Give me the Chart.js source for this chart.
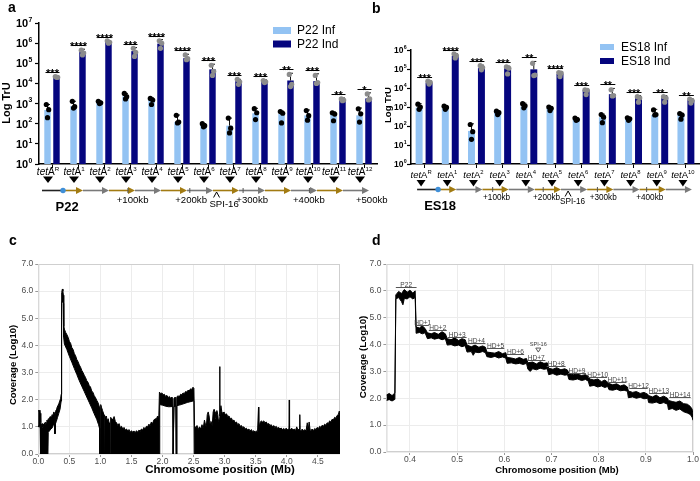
<!DOCTYPE html>
<html>
<head>
<meta charset="utf-8">
<title>tetA transduction and read coverage</title>
<script src="https://cdn.jsdelivr.net/npm/chart.js@4.4.1/dist/chart.umd.min.js"></script>
<style>
  body { margin: 0; background: #fff; }
  #page { position: relative; width: 700px; height: 481px; overflow: hidden; background: #fff; }
  #page canvas { position: absolute; }
  .letter { position: absolute; font: bold 14px Arial, "Liberation Sans", sans-serif; line-height: 14px; color: #000; }
</style>
</head>
<body>
<div id="page">
  <canvas id="chartA" width="400" height="216" style="left:0;top:0"></canvas>
  <canvas id="chartB" width="350" height="216" style="left:350px;top:0"></canvas>
  <canvas id="chartC" width="350" height="241" style="left:0;top:240px"></canvas>
  <canvas id="chartD" width="350" height="241" style="left:350px;top:240px"></canvas>
  <div class="letter" style="left:8px;top:0">a</div>
  <div class="letter" style="left:372px;top:1px">b</div>
  <div class="letter" style="left:9px;top:233px">c</div>
  <div class="letter" style="left:372px;top:233px">d</div>
</div>
<script>
// ---- panel a : P22
const p22Sites = ['R', '1', '2', '3', '4', '5', '6', '7', '8', '9', '10', '11', '12'];
const p22Inf = [480, 750, 1100, 2300, 1600, 120, 80, 80, 330, 300, 260, 280, 260];
const p22Ind = [21000, 380000, 1150000, 400000, 950000, 180000, 50000, 13000, 13000, 14000, 13000, 1600, 1800];
const p22InfErr = [900, 1300, 1300, 3200, 1900, 270, 100, 190, 580, 420, 480, 380, 600];
const p22IndErr = [23000, 500000, 1350000, 600000, 1500000, 280000, 90000, 16000, 15000, 32000, 30000, 1900, 3400];
const p22InfDots = [[900, 500, 200], [1300, 700, 600], [1300, 1100, 1000], [3200, 2200, 1700], [1800, 1500, 900], [260, 120, 110], [100, 80, 70], [190, 60, 35], [560, 350, 160], [400, 330, 110], [450, 250, 150], [350, 300, 140], [550, 310, 120]];
const p22IndDots = [[22000, 20000, 20000], [450000, 320000, 260000], [1300000, 1100000, 1000000], [550000, 350000, 220000], [1300000, 1000000, 550000], [260000, 170000, 150000], [80000, 40000, 25000], [16000, 12000, 9000], [14000, 12000, 11000], [28000, 9000, 7000], [25000, 11000, 10000], [1700, 1500, 1400], [3000, 1700, 1500]];
const p22Stars = ['***', '****', '****', '***', '****', '****', '***', '***', '***', '**', '***', '**', '*'];
const p22Ticks = [1, 10, 100, 1000, 10000, 100000, 1000000, 10000000];

// ---- panel b : ES18
const es18Sites = ['R', '1', '2', '3', '4', '5', '6', '7', '8', '9', '10'];
const es18Inf = [920, 850, 55, 500, 1050, 850, 225, 290, 255, 380, 410];
const es18Ind = [19000, 480000, 110000, 110000, 96000, 55000, 7900, 4700, 3500, 3200, 2300];
const es18InfErr = [1500, 1100, 130, 620, 1600, 1050, 270, 420, 280, 750, 470];
const es18IndErr = [24000, 650000, 160000, 140000, 250000, 70000, 8500, 9500, 4000, 4000, 2800];
const es18InfDots = [[1400, 1000, 750], [1100, 950, 750], [120, 50, 20], [600, 500, 400], [1500, 1150, 900], [1000, 850, 650], [260, 220, 200], [400, 290, 150], [270, 240, 200], [700, 400, 380], [450, 380, 230]];
const es18IndDots = [[23000, 20000, 16000], [620000, 500000, 380000], [150000, 120000, 90000], [130000, 110000, 55000], [200000, 48000, 45000], [65000, 60000, 40000], [8000, 7500, 4500], [8000, 4000, 3800], [3500, 3000, 1800], [3500, 3000, 1800], [2600, 2200, 1600]];
const es18Stars = ['***', '****', '***', '***', '**', '****', '***', '**', '***', '**', '**'];
const es18Ticks = [1, 10, 100, 1000, 10000, 100000, 1000000];

// ---- panel c : whole chromosome coverage (upper / lower edge of the trace)
const covWholeUpper = [[0.000,1.05],[0.004,1.62],[0.015,1.55],[0.025,1.62],[0.033,1.50],[0.040,1.15],[0.050,1.05],[0.060,1.12],[0.070,0.98],[0.080,1.10],[0.090,1.02],[0.100,1.15],[0.110,1.05],[0.120,1.18],[0.130,1.10],[0.140,1.25],[0.150,1.18],[0.160,1.30],[0.175,1.28],[0.190,1.38],[0.205,1.35],[0.220,1.45],[0.235,1.42],[0.250,1.55],[0.262,1.50],[0.268,0.75],[0.274,1.50],[0.285,1.62],[0.300,1.70],[0.315,1.78],[0.330,1.85],[0.345,1.95],[0.360,2.05],[0.368,2.20],
  [0.372,5.75],[0.380,5.95],[0.388,6.08],[0.396,6.00],[0.404,5.85],[0.410,4.70],[0.420,4.60],[0.440,4.48],[0.460,4.40],[0.480,4.30],[0.500,4.15],[0.520,4.08],[0.540,3.92],[0.560,3.85],[0.580,3.70],[0.600,3.62],[0.620,3.48],[0.640,3.40],[0.660,3.28],[0.680,3.20],[0.700,3.08],[0.720,3.00],[0.740,2.90],[0.760,2.82],[0.780,2.70],[0.800,2.64],[0.820,2.52],[0.840,2.47],[0.860,2.32],[0.880,2.27],[0.900,2.15],[0.920,2.08],[0.940,1.98],[0.960,1.90],[0.975,1.80],[0.985,1.72],[0.990,0.00],[1.000,0.00],
  [1.005,1.82],[1.020,1.70],[1.035,1.60],[1.045,1.52],[1.050,0.00],[1.058,0.00],[1.062,1.45],[1.080,1.35],[1.095,1.40],[1.110,1.22],[1.125,1.30],[1.140,1.15],[1.145,0.00],[1.160,0.00],[1.165,1.35],[1.185,1.30],[1.200,1.25],[1.220,1.38],[1.240,1.20],[1.260,1.15],[1.280,1.05],[1.300,1.12],[1.320,0.98],[1.340,1.02],[1.360,0.92],[1.380,0.98],[1.400,0.88],[1.420,0.92],[1.440,0.85],[1.460,0.90],[1.480,0.80],[1.500,0.86],[1.520,0.80],[1.540,0.85],[1.560,0.78],[1.580,0.86],[1.600,0.80],[1.620,0.88],[1.640,0.84],[1.660,0.92],[1.680,0.88],[1.700,0.98],[1.720,0.92],[1.740,1.02],[1.760,1.00],[1.780,1.10],[1.800,1.05],[1.820,1.18],[1.840,1.12],[1.860,1.25],[1.880,1.30],[1.900,1.28],[1.920,1.40],[1.940,1.35],
  [1.950,2.28],[1.970,2.22],[1.990,2.25],[2.010,2.18],[2.030,2.20],[2.050,2.12],[2.070,2.16],[2.090,2.08],[2.110,2.12],[2.130,2.05],[2.150,2.10],[2.165,2.05],[2.170,0.00],[2.180,0.00],[2.185,2.05],[2.200,2.10],[2.215,2.05],[2.220,0.00],[2.228,0.00],[2.232,2.10],[2.250,2.15],[2.270,2.10],[2.290,2.20],[2.310,2.18],[2.330,2.25],[2.350,2.22],[2.370,2.30],[2.390,2.28],[2.410,2.35],[2.430,2.32],[2.450,2.40],[2.470,2.38],[2.490,2.46],[2.505,2.42],
  [2.515,1.05],[2.535,0.95],[2.555,1.05],[2.575,0.90],[2.595,1.00],[2.615,0.92],[2.635,1.08],[2.655,0.95],[2.675,1.25],[2.690,1.10],[2.705,1.00],[2.720,1.45],[2.735,1.55],[2.750,1.40],[2.765,1.10],[2.780,1.20],[2.800,1.05],[2.815,1.55],[2.830,1.65],[2.845,1.55],[2.860,1.30],[2.875,1.60],[2.890,1.45],[2.900,1.20],[2.915,1.30],[2.920,3.22],[2.925,1.40],[2.940,1.78],[2.955,1.55],[2.970,1.50],[2.990,1.55],[3.010,1.45],[3.030,1.48],[3.050,1.38],[3.070,1.40],[3.090,1.30],[3.110,1.32],[3.130,1.22],[3.150,1.25],[3.170,1.15],[3.190,1.18],[3.210,1.08],[3.230,1.12],[3.250,1.02],[3.270,1.05],[3.290,0.98],[3.310,1.00],[3.330,0.92],[3.350,0.95],[3.370,0.88],[3.390,0.92],[3.410,0.85],[3.430,0.90],[3.450,0.82],[3.470,0.86],[3.490,0.80],[3.510,0.85],[3.530,0.82],[3.545,1.73],[3.550,0.90],
  [3.570,1.15],[3.590,1.22],[3.610,1.18],[3.630,1.22],[3.650,1.15],[3.670,1.18],[3.690,1.10],[3.710,1.12],[3.730,1.05],[3.750,1.08],[3.770,1.00],[3.790,1.05],[3.810,0.98],[3.830,1.02],[3.850,0.95],[3.870,0.98],[3.890,0.92],[3.910,0.96],[3.930,0.90],[3.950,0.94],[3.970,0.90],[3.990,0.95],[4.010,0.90],[4.035,0.92],[4.040,1.99],[4.045,0.95],[4.060,0.90],[4.080,0.95],[4.100,0.88],[4.120,0.92],[4.140,0.86],[4.160,1.00],[4.180,0.88],[4.200,0.92],[4.210,1.45],[4.215,0.90],[4.230,0.86],[4.250,0.92],[4.270,0.85],[4.290,0.90],[4.310,0.84],[4.330,1.15],[4.345,0.88],[4.360,1.18],[4.375,0.90],[4.390,0.86],[4.410,0.92],[4.430,0.86],[4.450,0.94],[4.470,0.90],[4.490,0.98],[4.510,0.94],[4.530,1.02],[4.550,0.98],[4.570,1.06],[4.590,1.02],[4.610,1.10],[4.630,1.06],[4.650,1.15],[4.670,1.12],[4.690,1.22],[4.710,1.18],[4.730,1.28],[4.750,1.25],[4.770,1.35],[4.790,1.32],[4.810,1.42],[4.830,1.45],[4.845,1.58],[4.857,1.50]];
const covWholeLower = [[0.000,1.05],[0.004,1.00],[0.030,1.00],[0.036,0.00],[0.155,0.00],[0.160,0.80],[0.180,0.85],[0.200,0.92],[0.220,0.95],[0.240,1.05],[0.260,1.10],[0.268,0.75],[0.274,1.10],[0.290,1.20],[0.310,1.35],[0.330,1.50],[0.350,1.65],[0.368,1.95],[0.374,5.55],[0.388,5.65],[0.400,5.55],[0.408,4.30],[0.420,4.05],[0.460,3.85],[0.500,3.60],[0.540,3.38],[0.580,3.15],[0.620,2.93],[0.660,2.70],[0.700,2.50],[0.740,2.30],[0.780,2.10],[0.820,1.90],[0.860,1.70],[0.900,1.48],[0.940,1.28],[0.970,1.08],[0.985,0.95],[0.990,0.00],[1.950,0.00],[1.955,1.82],[2.000,1.80],[2.050,1.76],[2.100,1.74],[2.165,1.75],[2.170,0.00],[2.180,0.00],[2.185,1.75],[2.215,1.76],[2.220,0.00],[2.228,0.00],[2.232,1.78],[2.300,1.82],[2.400,1.90],[2.505,1.96],[2.510,0.00],[4.857,0.00]];

// ---- panel d : zoom on the P22 region
const covZoomUpper = [[0.350,2.12],[0.356,2.18],[0.362,2.10],[0.368,2.20],[0.370,5.85],[0.376,5.98],[0.382,5.90],[0.388,6.05],[0.394,5.95],[0.400,6.02],[0.406,5.92],[0.411,6.00],[0.413,4.65],[0.420,4.62],[0.426,4.70],[0.432,4.60],[0.437,4.44],[0.445,4.40],[0.452,4.45],[0.460,4.38],[0.468,4.48],[0.475,4.40],[0.479,4.22],[0.487,4.18],[0.495,4.25],[0.503,4.15],[0.510,4.22],[0.517,4.18],[0.521,3.98],[0.530,3.92],[0.538,3.98],[0.546,3.90],[0.554,3.95],[0.560,3.90],[0.563,3.72],[0.572,3.70],[0.580,3.68],[0.588,3.74],[0.596,3.66],[0.603,3.70],[0.606,3.52],[0.615,3.50],[0.624,3.46],[0.632,3.52],[0.640,3.45],[0.647,3.48],[0.650,3.32],[0.660,3.35],[0.668,3.28],[0.676,3.36],[0.684,3.30],[0.691,3.32],[0.694,3.12],[0.703,3.08],[0.711,3.14],[0.720,3.06],[0.728,3.10],[0.734,3.05],[0.737,2.92],[0.746,2.88],[0.755,2.90],[0.764,2.85],[0.772,2.88],[0.778,2.82],[0.781,2.72],[0.790,2.68],[0.798,2.72],[0.806,2.62],[0.813,2.68],[0.819,2.60],[0.822,2.55],[0.830,2.50],[0.838,2.54],[0.846,2.46],[0.854,2.50],[0.861,2.42],[0.863,2.27],[0.872,2.22],[0.880,2.25],[0.888,2.18],[0.896,2.22],[0.904,2.15],[0.906,2.10],[0.914,2.05],[0.922,2.12],[0.930,2.02],[0.938,2.08],[0.946,2.00],[0.948,1.92],[0.956,1.88],[0.964,1.85],[0.972,1.90],[0.980,1.80],[0.988,1.78],[0.994,1.70],[0.998,1.60],[1.000,1.40]];
const covZoomLower = [[0.350,1.92],[0.356,1.95],[0.362,1.90],[0.368,1.96],[0.370,5.70],[0.376,5.75],[0.382,5.60],[0.385,5.48],[0.388,5.72],[0.394,5.70],[0.400,5.78],[0.406,5.70],[0.411,5.75],[0.413,4.42],[0.420,4.45],[0.426,4.40],[0.432,4.44],[0.437,4.22],[0.445,4.25],[0.452,4.20],[0.460,4.24],[0.468,4.18],[0.475,4.22],[0.479,3.98],[0.487,4.00],[0.495,3.95],[0.503,3.98],[0.510,3.92],[0.517,3.96],[0.521,3.72],[0.530,3.74],[0.534,3.60],[0.538,3.72],[0.546,3.70],[0.554,3.74],[0.560,3.70],[0.563,3.55],[0.572,3.52],[0.580,3.56],[0.588,3.50],[0.596,3.54],[0.603,3.50],[0.606,3.30],[0.615,3.32],[0.624,3.28],[0.632,3.30],[0.640,3.26],[0.647,3.30],[0.650,3.08],[0.655,3.00],[0.660,3.10],[0.668,3.06],[0.676,3.12],[0.684,3.08],[0.691,3.10],[0.694,2.88],[0.703,2.92],[0.711,2.86],[0.720,2.90],[0.728,2.86],[0.734,2.88],[0.737,2.70],[0.746,2.68],[0.755,2.72],[0.764,2.66],[0.772,2.70],[0.778,2.64],[0.781,2.45],[0.790,2.48],[0.798,2.42],[0.806,2.46],[0.813,2.40],[0.819,2.44],[0.822,2.32],[0.830,2.30],[0.838,2.34],[0.846,2.28],[0.854,2.30],[0.861,2.26],[0.863,2.02],[0.872,2.05],[0.880,2.00],[0.888,2.04],[0.896,1.98],[0.904,2.00],[0.906,1.84],[0.914,1.82],[0.922,1.86],[0.930,1.80],[0.938,1.84],[0.946,1.78],[0.948,1.58],[0.956,1.62],[0.964,1.55],[0.972,1.60],[0.980,1.50],[0.988,1.45],[0.994,1.40],[0.998,1.30],[1.000,1.18]];
const zoomMarks = ['P22', 'HD+1', 'HD+2', 'HD+3', 'HD+4', 'HD+5', 'HD+6', 'HD+7', 'HD+8', 'HD+9', 'HD+10', 'HD+11', 'HD+12', 'HD+13', 'HD+14'];
const zoomMarkStart = [0.370, 0.414, 0.440, 0.480, 0.522, 0.563, 0.605, 0.648, 0.690, 0.735, 0.778, 0.821, 0.865, 0.907, 0.950];
const zoomMarkEnd = [0.414, 0.440, 0.478, 0.520, 0.560, 0.600, 0.642, 0.687, 0.730, 0.773, 0.818, 0.859, 0.904, 0.948, 0.995];
const zoomMarkLevel = [6.15, 4.73, 4.54, 4.29, 4.07, 3.86, 3.64, 3.43, 3.20, 2.95, 2.78, 2.62, 2.37, 2.18, 2.06];

const LIGHT = '#93c3f3', DARK = '#05057e', GOLD = '#a27b12', GREY = '#7a7a7a';
const FONT = 'Arial, "Liberation Sans", Helvetica, sans-serif';
Chart.defaults.font.family = FONT;

function drawTetA(ctx, x, baseY, sup, size) {
  const parts = [
    { t: 'tet', f: `italic ${size}px ${FONT}`, dy: 0 },
    { t: 'A', f: `${size}px ${FONT}`, dy: 0 },
    { t: sup, f: `${size * 0.62}px ${FONT}`, dy: -size * 0.4 }
  ];
  let w = 0;
  parts.forEach(p => { ctx.font = p.f; p.w = ctx.measureText(p.t).width; w += p.w; });
  let cx = x - w / 2;
  ctx.textAlign = 'left';
  ctx.textBaseline = 'alphabetic';
  parts.forEach(p => { ctx.font = p.f; ctx.fillText(p.t, cx, baseY + p.dy); cx += p.w; });
}

function drawMap(chart, m) {
  const ctx = chart.ctx, xs = chart.scales.x;
  const c = i => xs.getPixelForValue(i);
  ctx.save();
  ctx.lineWidth = 1.6;
  const dotX = c(0) + m.dotShift;
  ctx.strokeStyle = '#222';
  ctx.beginPath(); ctx.moveTo(c(0) + m.startShift, m.lineY); ctx.lineTo(dotX, m.lineY); ctx.stroke();
  let from = dotX;
  for (let i = 1; i < m.sites.length; i++) {
    const tip = c(i) + m.tipShift, col = i % 2 ? GOLD : GREY;
    ctx.strokeStyle = col; ctx.fillStyle = col;
    ctx.beginPath(); ctx.moveTo(from, m.lineY); ctx.lineTo(tip - 5, m.lineY); ctx.stroke();
    ctx.beginPath(); ctx.moveTo(tip, m.lineY); ctx.lineTo(tip - 7, m.lineY - 3.5); ctx.lineTo(tip - 7, m.lineY + 3.5); ctx.closePath(); ctx.fill();
    from = tip;
  }
  ctx.fillStyle = '#3f8fd8';
  ctx.beginPath(); ctx.arc(dotX, m.lineY, 2.7, 0, Math.PI * 2); ctx.fill();

  // kb marks
  ctx.fillStyle = '#000'; ctx.strokeStyle = '#555'; ctx.lineWidth = 1;
  ctx.font = `${m.kbSize}px ${FONT}`; ctx.textAlign = 'center'; ctx.textBaseline = 'middle';
  m.kb.forEach(([t, at, tick]) => {
    if (tick !== null) {
      const tx = c(tick);
      ctx.beginPath(); ctx.moveTo(tx, m.lineY - 2.5); ctx.lineTo(tx, m.lineY + 2.5); ctx.stroke();
    }
    ctx.fillText(t, c(at), m.kbY);
  });
  const sx = c(m.spi.caret);
  ctx.strokeStyle = '#000';
  ctx.beginPath(); ctx.moveTo(sx - 3, m.lineY + 7); ctx.lineTo(sx, m.lineY + 1.5); ctx.lineTo(sx + 3, m.lineY + 7); ctx.stroke();
  ctx.font = `${m.spi.size}px ${FONT}`;
  ctx.fillText('SPI-16', c(m.spi.text), m.spi.y);
  ctx.font = `bold ${m.nameSize}px ${FONT}`;
  ctx.fillText(m.name, c(m.nameAt), m.nameY);

  // insertion sites
  m.sites.forEach((s, i) => {
    const x = c(i) + m.siteShift;
    ctx.fillStyle = '#000';
    ctx.beginPath(); ctx.moveTo(x - m.triW / 2, m.triTop); ctx.lineTo(x + m.triW / 2, m.triTop); ctx.lineTo(x, m.triTop + m.triH); ctx.closePath(); ctx.fill();
    drawTetA(ctx, x, m.labelY, s, m.labelSize);
  });
  ctx.restore();
}

function barExtras(o) {
  return {
    id: 'barExtras',
    afterDatasetsDraw(chart) {
      const ctx = chart.ctx, y = chart.scales.y;
      const mInf = chart.getDatasetMeta(0).data, mInd = chart.getDatasetMeta(1).data;
      ctx.save();
      [[mInf, o.errInf, o.dotsInf, '#000'], [mInd, o.errInd, o.dotsInd, '#8c8c8c']].forEach(([bars, err, dots, dotColor]) => {
        bars.forEach((b, i) => {
          const top = y.getPixelForValue(err[i]);
          ctx.strokeStyle = '#111'; ctx.lineWidth = 1;
          ctx.beginPath(); ctx.moveTo(b.x, b.y); ctx.lineTo(b.x, top);
          ctx.moveTo(b.x - 2.5, top); ctx.lineTo(b.x + 2.5, top); ctx.stroke();
          ctx.fillStyle = dotColor;
          dots[i].forEach((v, k) => {
            ctx.beginPath();
            ctx.arc(b.x + [-1.2, 1.2, 0][k], y.getPixelForValue(v), 2.6, 0, Math.PI * 2);
            ctx.fill();
          });
        });
      });
      ctx.fillStyle = '#000'; ctx.strokeStyle = '#000'; ctx.lineWidth = 1;
      ctx.font = `bold ${o.starSize}px ${FONT}`; ctx.textAlign = 'center'; ctx.textBaseline = 'alphabetic';
      mInd.forEach((b, i) => {
        const hi = Math.max(o.errInd[i], ...o.dotsInd[i]);
        const ly = Math.round(y.getPixelForValue(hi) - 4) + 0.5;
        const x0 = mInf[i].x - 2, x1 = b.x + 3;
        ctx.beginPath(); ctx.moveTo(x0, ly); ctx.lineTo(x1, ly); ctx.stroke();
        ctx.fillText(o.stars[i], (x0 + x1) / 2, ly + 4);
      });
      ctx.restore();
    },
    afterDraw(chart) {
      const ctx = chart.ctx, y = chart.scales.y, a = chart.chartArea;
      ctx.save();
      // log tick labels 10^n
      ctx.fillStyle = '#000'; ctx.textAlign = 'left'; ctx.textBaseline = 'alphabetic';
      o.ticks.forEach(v => {
        const py = y.getPixelForValue(v), e = String(Math.round(Math.log10(v)));
        ctx.font = `bold ${o.tickSize}px ${FONT}`;
        const w1 = ctx.measureText('10').width;
        ctx.font = `bold ${o.tickSize * 0.62}px ${FONT}`;
        const w2 = ctx.measureText(e).width;
        const x0 = a.left - o.tickGap - w1 - w2;
        ctx.font = `bold ${o.tickSize}px ${FONT}`;
        ctx.fillText('10', x0, py + o.tickSize * 0.36);
        ctx.font = `bold ${o.tickSize * 0.62}px ${FONT}`;
        ctx.fillText(e, x0 + w1 + 0.3, py - o.tickSize * 0.12);
      });
      // y title
      ctx.save();
      ctx.translate(o.yTitle.x, o.yTitle.y); ctx.rotate(-Math.PI / 2);
      ctx.font = `bold ${o.yTitle.size}px ${FONT}`; ctx.textAlign = 'center'; ctx.textBaseline = 'middle';
      ctx.fillText('Log TrU', 0, 0);
      ctx.restore();
      // legend
      const lg = o.legend;
      [[LIGHT, chart.data.datasets[0].label], [DARK, chart.data.datasets[1].label]].forEach(([col, txt], k) => {
        const top = lg.y + k * lg.step;
        ctx.fillStyle = col; ctx.fillRect(lg.x, top, lg.w, lg.h);
        ctx.fillStyle = '#000'; ctx.font = `${lg.size}px ${FONT}`; ctx.textBaseline = 'middle';
        ctx.fillText(txt, lg.tx, top + lg.h / 2 + 0.5);
      });
      ctx.restore();
      drawMap(chart, o.map);
    }
  };
}

function barChart(id, o) {
  return new Chart(document.getElementById(id), {
    type: 'bar',
    data: {
      labels: o.sites.map(s => 'tetA' + s),
      datasets: [
        { label: o.names[0], data: o.inf, backgroundColor: LIGHT, categoryPercentage: o.catPct, barPercentage: o.barPct },
        { label: o.names[1], data: o.ind, backgroundColor: DARK, categoryPercentage: o.catPct, barPercentage: o.barPct }
      ]
    },
    options: {
      responsive: false, animation: false, devicePixelRatio: 1,
      layout: { padding: o.pad },
      plugins: { legend: { display: false }, tooltip: { enabled: false } },
      scales: {
        x: {
          ticks: { display: false },
          grid: { drawOnChartArea: false, offset: false, tickLength: 4, tickColor: '#000', tickWidth: 1 },
          border: { color: '#000', width: 1.5 },
          afterFit: s => { s.height = o.xHeight; }
        },
        y: {
          type: 'logarithmic', min: o.ticks[0], max: o.ticks[o.ticks.length - 1],
          afterBuildTicks: s => { s.ticks = o.ticks.map(v => ({ value: v })); },
          ticks: { display: false },
          grid: { drawOnChartArea: false, tickLength: 4, tickColor: '#000', tickWidth: 1.2 },
          border: { color: '#000', width: 1.5 },
          afterFit: s => { s.width = o.yWidth; }
        }
      }
    },
    plugins: [barExtras(o)]
  });
}

barChart('chartA', {
  sites: p22Sites, names: ['P22 Inf', 'P22 Ind'], inf: p22Inf, ind: p22Ind,
  errInf: p22InfErr, errInd: p22IndErr, dotsInf: p22InfDots, dotsInd: p22IndDots,
  stars: p22Stars, ticks: p22Ticks, starSize: 11, tickSize: 11, tickGap: 7,
  catPct: 0.69, barPct: 0.72, pad: { left: 0, top: 23, right: 23, bottom: 0 }, xHeight: 52, yWidth: 39,
  yTitle: { x: 7, y: 103, size: 11 },
  legend: { x: 273, y: 27, w: 18, h: 7, step: 13.5, tx: 297, size: 12 },
  map: {
    sites: p22Sites, siteShift: -4, tipShift: 5, startShift: -10, dotShift: 11,
    labelY: 174.5, labelSize: 10, triTop: 176.5, triH: 6.5, triW: 10, lineY: 190.5,
    kbY: 200, kbSize: 9.6,
    kb: [['+100kb', 3.1, 2.92], ['+200kb', 5.35, 5.3], ['+300kb', 7.7, 7.35], ['+400kb', 9.88, 9.9], ['+500kb', 12.3, null]],
    spi: { caret: 6.33, text: 6.62, y: 204.5, size: 9.6 },
    name: 'P22', nameAt: 0.58, nameY: 207, nameSize: 13
  }
});

barChart('chartB', {
  sites: es18Sites, names: ['ES18 Inf', 'ES18 Ind'], inf: es18Inf, ind: es18Ind,
  errInf: es18InfErr, errInd: es18IndErr, dotsInf: es18InfDots, dotsInd: es18IndDots,
  stars: es18Stars, ticks: es18Ticks, starSize: 10.5, tickSize: 8.5, tickGap: 4.5,
  catPct: 0.76, barPct: 0.7, pad: { left: 31, top: 50, right: 1, bottom: 0 }, xHeight: 52, yWidth: 30,
  yTitle: { x: 38, y: 105, size: 9.5 },
  legend: { x: 250, y: 44, w: 14, h: 6, step: 14, tx: 271, size: 12 },
  map: {
    sites: es18Sites, siteShift: -3, tipShift: 6, startShift: -7, dotShift: 14,
    labelY: 177.5, labelSize: 9.5, triTop: 180, triH: 6.5, triW: 9, lineY: 189.5,
    kbY: 198, kbSize: 8.2,
    kb: [['+100kb', 2.77, 2.62], ['+200kb', 4.68, 4.55], ['+300kb', 6.84, 6.62], ['+400kb', 8.62, 8.5]],
    spi: { caret: 5.5, text: 5.67, y: 201.5, size: 8.2 },
    name: 'ES18', nameAt: 0.61, nameY: 206, nameSize: 13
  }
});

function coverageExtras(o) {
  return {
    id: 'coverageExtras',
    beforeDatasetsDraw(chart) {
      const { ctx, chartArea: a } = chart;
      ctx.save();
      ctx.strokeStyle = '#cfcfcf'; ctx.lineWidth = 1;
      ctx.strokeRect(a.left + 0.5, a.top + 0.5, a.right - a.left - 1, a.bottom - a.top - 1);
      ctx.restore();
    },
    afterDraw(chart) {
      const { ctx, scales: { x, y } } = chart;
      ctx.save();
      ctx.fillStyle = '#000'; ctx.textAlign = 'center'; ctx.textBaseline = 'middle';
      ctx.font = `bold ${o.xTitle.size}px ${FONT}`;
      ctx.fillText('Chromosome position (Mb)', o.xTitle.x, o.xTitle.y);
      ctx.save();
      ctx.translate(o.yTitle.x, o.yTitle.y); ctx.rotate(-Math.PI / 2);
      ctx.font = `bold ${o.yTitle.size}px ${FONT}`;
      ctx.fillText('Coverage (Log10)', 0, 0);
      ctx.restore();
      if (o.marks) {
        ctx.strokeStyle = '#555'; ctx.lineWidth = 1; ctx.fillStyle = '#444';
        ctx.textBaseline = 'alphabetic';
        ctx.font = `6.6px ${FONT}`;
        zoomMarks.forEach((t, i) => {
          const x0 = x.getPixelForValue(zoomMarkStart[i]), x1 = x.getPixelForValue(zoomMarkEnd[i]);
          const ly = Math.round(y.getPixelForValue(zoomMarkLevel[i])) + 0.5;
          ctx.beginPath(); ctx.moveTo(x0, ly); ctx.lineTo(x1, ly); ctx.stroke();
          ctx.fillText(t, (x0 + x1) / 2, ly - 1);
        });
        const sx = x.getPixelForValue(0.672), sy = y.getPixelForValue(4.0);
        ctx.font = `5.6px ${FONT}`; ctx.textBaseline = 'middle';
        ctx.fillText('SPI-16', sx, sy);
        ctx.beginPath(); ctx.moveTo(sx - 2.5, sy + 3.5); ctx.lineTo(sx + 2.5, sy + 3.5); ctx.lineTo(sx, sy + 7.5); ctx.closePath(); ctx.stroke();
      }
      ctx.restore();
    }
  };
}

function coverageChart(id, o) {
  const axisTicks = { color: '#4d4d4d', font: { size: 8.5 } };
  return new Chart(document.getElementById(id), {
    type: 'line',
    data: {
      datasets: [
        { data: o.upper.map(([x, y]) => ({ x, y })), borderColor: '#000', borderWidth: 1, pointRadius: 0, fill: false },
        { data: o.lower.map(([x, y]) => ({ x, y })), borderColor: '#000', borderWidth: 1, pointRadius: 0, fill: '-1', backgroundColor: '#000' }
      ]
    },
    options: {
      responsive: false, animation: false, devicePixelRatio: 1,
      layout: { padding: o.pad },
      plugins: { legend: { display: false }, tooltip: { enabled: false } },
      elements: { line: { tension: 0, borderJoinStyle: 'miter' } },
      scales: {
        x: {
          type: 'linear', min: o.xMin, max: o.xMax,
          ticks: { ...axisTicks, stepSize: o.xStep, includeBounds: false, autoSkip: false, maxRotation: 0, padding: 0, callback: v => v.toFixed(1) },
          grid: { color: '#ececec', tickColor: '#999', tickLength: 3 },
          border: { display: false },
          afterFit: s => { s.height = o.xHeight; }
        },
        y: {
          min: 0, max: 7,
          ticks: { ...axisTicks, stepSize: 1, padding: 2, callback: v => v.toFixed(1) },
          grid: { color: '#ececec', tickColor: '#999', tickLength: 3 },
          border: { display: false },
          afterFit: s => { s.width = o.yWidth; }
        }
      }
    },
    plugins: [coverageExtras(o)]
  });
}

coverageChart('chartC', {
  upper: covWholeUpper, lower: covWholeLower, xMin: 0, xMax: 4.857, xStep: 0.5,
  pad: { left: 0, top: 24, right: 10, bottom: 0 }, xHeight: 27, yWidth: 38.3,
  xTitle: { x: 220, y: 230, size: 11.5 }, yTitle: { x: 13.5, y: 125, size: 9.5 }, marks: false
});

coverageChart('chartD', {
  upper: covZoomUpper, lower: covZoomLower, xMin: 0.35, xMax: 1.0, xStep: 0.1,
  pad: { left: 0, top: 24, right: 7, bottom: 0 }, xHeight: 29, yWidth: 36.4,
  xTitle: { x: 207, y: 230, size: 9.5 }, yTitle: { x: 13, y: 117, size: 9.8 }, marks: true
});
</script>
</body>
</html>
